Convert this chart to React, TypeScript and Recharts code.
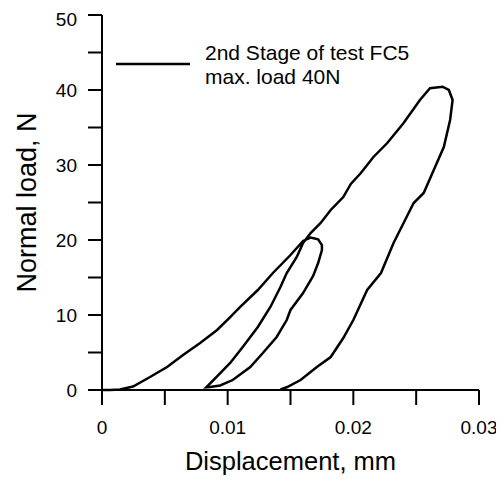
import { LineChart, Line, XAxis, YAxis, Legend } from 'recharts';

// displacement (mm), normal load (N), in drawing order
const firstLoading: [number, number][] = [
  [0, 0], [0.00064, 0], [0.00143, 0.07], [0.00247, 0.47], [0.00382, 1.73],
  [0.00518, 3.07], [0.00645, 4.67], [0.00781, 6.27], [0.00916, 8.0],
  [0.0102, 9.73], [0.011, 11.07], [0.0124, 13.33], [0.0136, 15.6],
  [0.015, 18.0], [0.016, 19.87], [0.0166, 20.33],
];

const firstUnloading: [number, number][] = [
  [0.0172, 20.1], [0.0175, 19.33], [0.0175, 18.67], [0.0172, 16.93],
  [0.0168, 15.2], [0.016, 12.93], [0.015, 10.67], [0.0147, 9.33],
  [0.0139, 7.07], [0.0128, 4.93], [0.0118, 3.07], [0.0104, 1.33],
  [0.0094, 0.6], [0.0086, 0.4], [0.0083, 0.36],
];

const reloading: [number, number][] = [
  [0.0091, 1.73], [0.0102, 3.6], [0.0112, 5.73], [0.0124, 8.4],
  [0.0134, 11.07], [0.0142, 13.73], [0.0147, 15.6], [0.0155, 17.73],
  [0.016, 19.6], [0.0166, 20.93], [0.0174, 22.27], [0.0182, 24.0],
  [0.0192, 25.73], [0.0198, 27.47], [0.0206, 28.93], [0.0216, 31.07],
  [0.0227, 32.93], [0.024, 35.6], [0.0253, 38.67], [0.0261, 40.23],
  [0.0271, 40.44],
];

const secondUnloading: [number, number][] = [
  [0.0276, 40.0], [0.0279, 38.67], [0.0277, 36.0], [0.0272, 32.4],
  [0.0264, 29.33], [0.0256, 26.27], [0.0248, 24.93], [0.024, 22.27],
  [0.0232, 19.6], [0.0224, 16.4], [0.0222, 15.6], [0.0211, 13.33],
  [0.02, 9.33], [0.0192, 6.93], [0.0182, 4.4], [0.0171, 3.07],
  [0.0158, 1.33], [0.0147, 0.36], [0.0142, 0.09],
];

const xTicks = [0, 0.005, 0.01, 0.015, 0.02, 0.025, 0.03];
const xLabels = ['0', '', '0.01', '', '0.02', '', '0.03'];
const yTicks = [0, 5, 10, 15, 20, 25, 30, 35, 40, 45, 50];
const yLabels = ['0', '', '10', '', '20', '', '30', '', '40', '', '50'];

const legendLines = ['2nd Stage of test FC5', 'max. load 40N'];

const data = [...firstLoading, ...firstUnloading, ...reloading, ...secondUnloading].map(
  ([x, y]) => ({ x, y })
);

const font = '"Liberation Sans", Arial, sans-serif';

const YTitle = (props: any) => {
  const vb = props.viewBox || {};
  const x = (vb.x || 0) + 28;
  const y = vb.y + vb.height / 2;
  return (
    <text
      x={x}
      y={y}
      transform={`rotate(-90, ${x}, ${y})`}
      textAnchor="middle"
      fontSize={27}
      fontFamily={font}
      fill="#000"
    >
      Normal load, N
    </text>
  );
};

const LegendBox = () => (
  <svg width={340} height={56} style={{ display: 'block' }}>
    <line x1={8} y1={26} x2={82} y2={26} stroke="#000" strokeWidth={2.5} />
    <text x={97} y={22} fontSize={21} fontFamily={font} fill="#000">
      {legendLines[0]}
    </text>
    <text x={97} y={46} fontSize={21} fontFamily={font} fill="#000">
      {legendLines[1]}
    </text>
  </svg>
);

export default function App() {
  return (
    <LineChart
      width={496}
      height={474}
      data={data}
      margin={{ top: 7, right: 25, left: 0, bottom: 0 }}
    >
      <XAxis
        dataKey="x"
        type="number"
        domain={[0, 0.03]}
        ticks={xTicks}
        tickFormatter={(v: number) => xLabels[xTicks.indexOf(v)] ?? ''}
        height={92}
        tickSize={15}
        tickMargin={16}
        axisLine={{ stroke: '#000', strokeWidth: 2 }}
        tickLine={{ stroke: '#000', strokeWidth: 2 }}
        tick={{ fill: '#000', fontSize: 19, fontFamily: font }}
        label={{
          value: 'Displacement, mm',
          position: 'insideBottom',
          offset: 12,
          fill: '#000',
          fontSize: 25.5,
          fontFamily: font,
        }}
      />
      <YAxis
        type="number"
        domain={[0, 50]}
        ticks={yTicks}
        tickFormatter={(v: number) => yLabels[yTicks.indexOf(v)] ?? ''}
        width={94}
        tickSize={14}
        tickMargin={11}
        axisLine={{ stroke: '#000', strokeWidth: 2 }}
        tickLine={{ stroke: '#000', strokeWidth: 2 }}
        tick={{ fill: '#000', fontSize: 19, fontFamily: font }}
        label={<YTitle />}
      />
      <Legend
        layout="vertical"
        align="center"
        verticalAlign="middle"
        content={<LegendBox />}
        wrapperStyle={{ left: 100, top: 30, width: 'auto' }}
      />
      <Line
        type="linear"
        dataKey="y"
        stroke="#000"
        strokeWidth={2.5}
        dot={false}
        activeDot={false}
        isAnimationActive={false}
      />
    </LineChart>
  );
}
